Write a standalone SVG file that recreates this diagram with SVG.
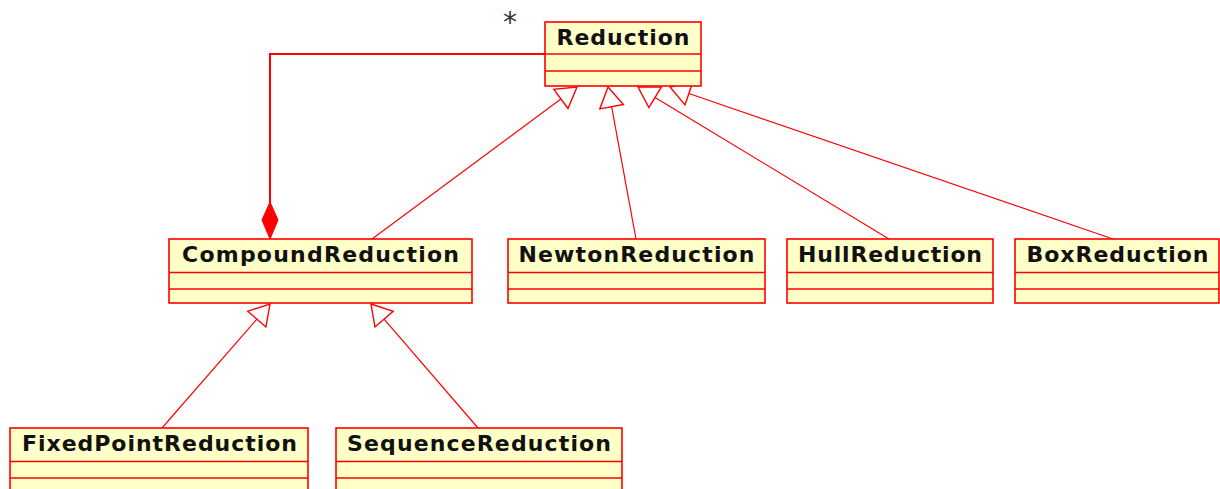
<svg xmlns="http://www.w3.org/2000/svg" width="1220" height="489" viewBox="0 0 1220 489">
<style>
.box{fill:#ffffc8;stroke:#ff0000;stroke-width:1.6}
.div{stroke:#ff0000;stroke-width:1.6}
.lbl{font-family:"DejaVu Sans",sans-serif;font-weight:bold;font-size:22px;fill:#111;text-anchor:middle}
.gen{stroke:#ff0000;stroke-width:1.2;fill:none}
.tri{stroke:#ff0000;stroke-width:1.4;fill:#ffffff}
.comp{stroke:#ff0000;stroke-width:2;fill:none}
.mult{font-family:"DejaVu Sans",sans-serif;font-size:28px;fill:#333}
</style>
<rect width="1220" height="489" fill="#ffffff"/>
<g id="connectors">
  <polyline class="comp" points="545,54 270,54 270,203"/>
  <polygon points="270,202 278,220 270,239 262,220" fill="#ff0000" stroke="#ff0000" stroke-width="1"/>
  <text class="mult" x="503" y="32">*</text>
  <line class="gen" x1="372" y1="239" x2="560.9" y2="98.9"/>
  <polygon class="tri" points="577,87 568,108.5 553.8,89.3"/>
  <line class="gen" x1="636" y1="239" x2="611.6" y2="106.7"/>
  <polygon class="tri" points="608,87 623.4,104.5 599.8,108.9"/>
  <line class="gen" x1="889" y1="239" x2="655.1" y2="97.4"/>
  <polygon class="tri" points="638,87 661.3,87.1 648.9,107.6"/>
  <line class="gen" x1="1113" y1="239" x2="688.9" y2="93.5"/>
  <polygon class="tri" points="670,87 692.8,82.1 685,104.9"/>
  <line class="gen" x1="162" y1="428" x2="256.9" y2="319.1"/>
  <polygon class="tri" points="270,304 265.9,327 247.8,311.2"/>
  <line class="gen" x1="478" y1="428" x2="384.1" y2="319.1"/>
  <polygon class="tri" points="371,304 393.2,311.3 375,327"/>
</g>
<g id="Reduction">
  <rect class="box" x="545" y="22" width="156" height="64"/>
  <line class="div" x1="545" y1="54" x2="701" y2="54"/>
  <line class="div" x1="545" y1="71" x2="701" y2="71"/>
  <text class="lbl" x="623" y="45" textLength="133" lengthAdjust="spacing">Reduction</text>
</g>
<g id="CompoundReduction">
  <rect class="box" x="169" y="239" width="303" height="64"/>
  <line class="div" x1="169" y1="272.5" x2="472" y2="272.5"/>
  <line class="div" x1="169" y1="289" x2="472" y2="289"/>
  <text class="lbl" x="320.5" y="262" textLength="277" lengthAdjust="spacing">CompoundReduction</text>
</g>
<g id="NewtonReduction">
  <rect class="box" x="508" y="239" width="257" height="64"/>
  <line class="div" x1="508" y1="272.5" x2="765" y2="272.5"/>
  <line class="div" x1="508" y1="289" x2="765" y2="289"/>
  <text class="lbl" x="636.5" y="262" textLength="236" lengthAdjust="spacing">NewtonReduction</text>
</g>
<g id="HullReduction">
  <rect class="box" x="787" y="239" width="206" height="64"/>
  <line class="div" x1="787" y1="272.5" x2="993" y2="272.5"/>
  <line class="div" x1="787" y1="289" x2="993" y2="289"/>
  <text class="lbl" x="890" y="262" textLength="184" lengthAdjust="spacing">HullReduction</text>
</g>
<g id="BoxReduction">
  <rect class="box" x="1015" y="239" width="204" height="64"/>
  <line class="div" x1="1015" y1="272.5" x2="1219" y2="272.5"/>
  <line class="div" x1="1015" y1="289" x2="1219" y2="289"/>
  <text class="lbl" x="1117.5" y="262" textLength="182" lengthAdjust="spacing">BoxReduction</text>
</g>
<g id="FixedPointReduction">
  <rect class="box" x="10" y="428" width="298" height="64"/>
  <line class="div" x1="10" y1="461.5" x2="308" y2="461.5"/>
  <line class="div" x1="10" y1="478" x2="308" y2="478"/>
  <text class="lbl" x="159.5" y="451" textLength="275" lengthAdjust="spacing">FixedPointReduction</text>
</g>
<g id="SequenceReduction">
  <rect class="box" x="336" y="428" width="286" height="64"/>
  <line class="div" x1="336" y1="461.5" x2="622" y2="461.5"/>
  <line class="div" x1="336" y1="478" x2="622" y2="478"/>
  <text class="lbl" x="479" y="451" textLength="264" lengthAdjust="spacing">SequenceReduction</text>
</g>
</svg>
